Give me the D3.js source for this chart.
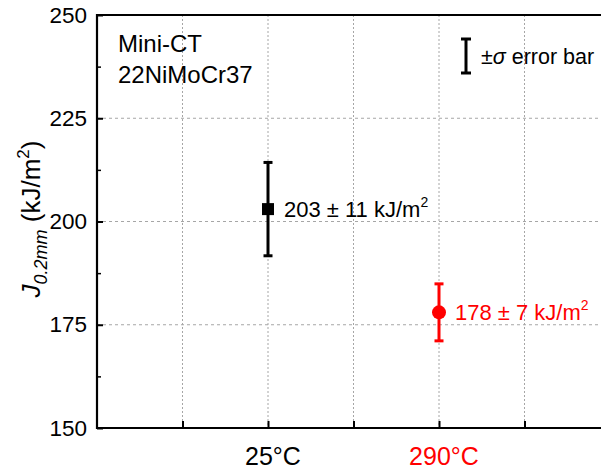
<!DOCTYPE html>
<html>
<head>
<meta charset="utf-8">
<script src="https://cdn.jsdelivr.net/npm/d3@7"></script>
<style>
  body { margin: 0; background: #fff; }
  svg text { font-family: Arial, "Liberation Sans", sans-serif; }
</style>
</head>
<body>
<div id="chart"></div>
<script>

// data
var categories = ["25°C", "290°C"];
var catPos = [2, 4];
var jValues = [203, 178];
var jErrors = [11.3, 6.9];
var pointLabels = ["203 ± 11 kJ/m", "178 ± 7 kJ/m"];
var colors = ["#000000", "#ff0000"];
var yTicks = [150, 175, 200, 225, 250];
var yMinor = [162.5, 187.5, 212.5, 237.5];
var xTicks = [1, 2, 3, 4, 5];

var width = 601, height = 476;
var margin = { left: 97, top: 15, bottom: 48 };

var svg = d3.select("#chart").append("svg")
  .attr("width", width)
  .attr("height", height);

var x = d3.scaleLinear().domain([0, 6]).range([margin.left, margin.left + 6 * 85.5]);
var y = d3.scaleLinear().domain([150, 250]).range([height - margin.bottom, margin.top]);

// grid
svg.append("g").selectAll("line.hg")
  .data(yTicks.filter(function(d){ return d > 150 && d < 250; }))
  .enter().append("line")
  .attr("x1", x(0)).attr("x2", width)
  .attr("y1", function(d){ return y(d); }).attr("y2", function(d){ return y(d); })
  .attr("stroke", "#a6a6a6").attr("stroke-width", 1.2)
  .attr("stroke-dasharray", "3,3");

svg.append("g").selectAll("line.vg")
  .data(xTicks)
  .enter().append("line")
  .attr("x1", function(d){ return x(d); }).attr("x2", function(d){ return x(d); })
  .attr("y1", y(250)).attr("y2", y(150))
  .attr("stroke", "#a6a6a6").attr("stroke-width", 1)
  .attr("stroke-dasharray", "2,2");

// axes
var yAxis = d3.axisLeft(y).tickValues(yTicks).tickSize(-6).tickPadding(10);
var gy = svg.append("g").attr("transform", "translate(" + x(0) + ",0)").call(yAxis);
gy.select(".domain").remove();
gy.selectAll("line").attr("stroke", "#000").attr("stroke-width", 2);
gy.selectAll("text").attr("font-size", 22.5).attr("fill", "#000");

var yMinorAxis = d3.axisLeft(y).tickValues(yMinor).tickSize(-4).tickFormat("");
var gym = svg.append("g").attr("transform", "translate(" + x(0) + ",0)").call(yMinorAxis);
gym.select(".domain").remove();
gym.selectAll("line").attr("stroke", "#000").attr("stroke-width", 1.5);

var xAxis = d3.axisBottom(x).tickValues(xTicks).tickSize(-7).tickFormat("");
var gx = svg.append("g").attr("transform", "translate(0," + y(150) + ")").call(xAxis);
gx.select(".domain").remove();
gx.selectAll("line").attr("stroke", "#000").attr("stroke-width", 2);

// frame lines
svg.append("line").attr("x1", x(0)).attr("x2", x(0)).attr("y1", y(250) - 1).attr("y2", y(150) + 1)
  .attr("stroke", "#000").attr("stroke-width", 2.2);
svg.append("line").attr("x1", x(0)).attr("x2", width).attr("y1", y(150)).attr("y2", y(150))
  .attr("stroke", "#000").attr("stroke-width", 2.2);
svg.append("line").attr("x1", x(0)).attr("x2", width).attr("y1", y(250)).attr("y2", y(250))
  .attr("stroke", "#000").attr("stroke-width", 2.2);

// category labels
svg.append("g").selectAll("text")
  .data(categories)
  .enter().append("text")
  .attr("x", function(d, i){ return x(catPos[i]) + 5; })
  .attr("y", 465)
  .attr("text-anchor", "middle")
  .attr("font-size", 25)
  .attr("fill", function(d, i){ return colors[i]; })
  .text(function(d){ return d; });

// y label
var yl = svg.append("text")
  .attr("transform", "translate(40,219) rotate(-90)")
  .attr("text-anchor", "middle")
  .attr("font-size", 26);
yl.append("tspan").attr("font-style", "italic").text("J");
yl.append("tspan").attr("font-style", "italic").attr("font-size", 18).attr("dy", 7).text("0.2mm");
yl.append("tspan").attr("dy", -7).text(" (kJ/m");
yl.append("tspan").attr("font-size", 17).attr("dy", -11).text("2");
yl.append("tspan").attr("dy", 11).text(")");

// error bars + markers
var pts = svg.append("g").selectAll("g.pt")
  .data(jValues)
  .enter().append("g");

pts.append("line")
  .attr("x1", function(d, i){ return x(catPos[i]); })
  .attr("x2", function(d, i){ return x(catPos[i]); })
  .attr("y1", function(d, i){ return y(d + jErrors[i]); })
  .attr("y2", function(d, i){ return y(d - jErrors[i]); })
  .attr("stroke", function(d, i){ return colors[i]; })
  .attr("stroke-width", 3);

[1, -1].forEach(function(s){
  pts.append("line")
    .attr("x1", function(d, i){ return x(catPos[i]) - 4.5; })
    .attr("x2", function(d, i){ return x(catPos[i]) + 4.5; })
    .attr("y1", function(d, i){ return y(d + s * jErrors[i]); })
    .attr("y2", function(d, i){ return y(d + s * jErrors[i]); })
    .attr("stroke", function(d, i){ return colors[i]; })
    .attr("stroke-width", 3);
});

pts.filter(function(d, i){ return i == 0; }).append("rect")
  .attr("x", function(d, i){ return x(catPos[0]) - 6; })
  .attr("y", function(d){ return y(d) - 6; })
  .attr("width", 12).attr("height", 12)
  .attr("fill", colors[0]);

pts.filter(function(d, i){ return i == 1; }).append("circle")
  .attr("cx", x(catPos[1]))
  .attr("cy", function(d){ return y(d); })
  .attr("r", 7)
  .attr("fill", colors[1]);

var lab = pts.append("text")
  .attr("x", function(d, i){ return x(catPos[i]) + 16; })
  .attr("y", function(d){ return y(d) + 8; })
  .attr("font-size", 22)
  .attr("fill", function(d, i){ return colors[i]; });
lab.append("tspan").text(function(d, i){ return pointLabels[i]; });
lab.append("tspan").attr("font-size", 14).attr("dy", -10).text("2");

// corner text
svg.append("text").attr("x", 118).attr("y", 52).attr("font-size", 24).text("Mini-CT");
svg.append("text").attr("x", 118).attr("y", 83).attr("font-size", 24).text("22NiMoCr37");

// legend
var lg = svg.append("g").attr("stroke", "#000").attr("stroke-width", 3);
lg.append("line").attr("x1", 466).attr("x2", 466).attr("y1", 39).attr("y2", 73);
lg.append("line").attr("x1", 461).attr("x2", 471).attr("y1", 39).attr("y2", 39);
lg.append("line").attr("x1", 461).attr("x2", 471).attr("y1", 73).attr("y2", 73);
var lt = svg.append("text").attr("x", 481).attr("y", 64).attr("font-size", 21.5);
lt.append("tspan").text("±");
lt.append("tspan").attr("font-style", "italic").text("σ");
lt.append("tspan").text(" error bar");

</script>
</body>
</html>
